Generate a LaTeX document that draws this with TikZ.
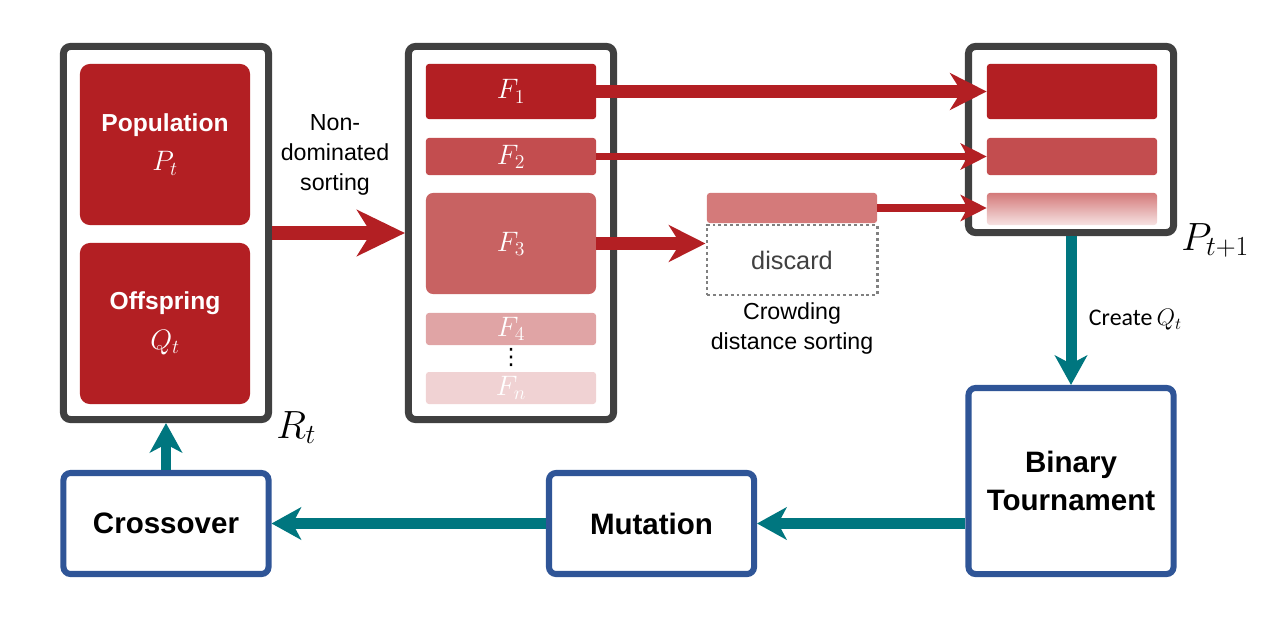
\documentclass[tikz,border=0pt]{standalone}
\usepackage{fix-cm}
\usepackage{amsmath}
\usepackage[no-math]{fontspec}
\setmainfont{Liberation Sans}
\newfontfamily\calibfont{Carlito}
\newfontfamily\dotsfont{DejaVu Sans}
\usepackage{tikz}
\usetikzlibrary{positioning}
\usetikzlibrary{arrows.meta}
\definecolor{redA}{RGB}{179,31,35}
\definecolor{redB}{RGB}{195,77,79}
\definecolor{redC}{RGB}{200,98,98}
\definecolor{redD}{RGB}{212,122,122}
\definecolor{redE}{RGB}{224,164,165}
\definecolor{redF}{RGB}{240,210,211}
\definecolor{redG}{RGB}{246,226,226}
\definecolor{grayline}{RGB}{64,64,64}
\definecolor{dotgray}{RGB}{128,128,128}
\definecolor{blueline}{RGB}{47,85,151}
\definecolor{tealc}{RGB}{0,118,127}

\begin{document}
\begin{tikzpicture}[x=0.025cm,y=-0.025cm]
\tikzstyle{cont}=[rectangle, rounded corners=5pt, line width=5pt, draw=grayline, minimum width=5.125cm]
\tikzstyle{blk}=[rectangle, rounded corners=2pt, minimum width=4.25cm, inner sep=0pt, text=white, font=\fontsize{20}{24}\selectfont]
\tikzstyle{op}=[rectangle, rounded corners=5pt, line width=4.3pt, draw=blueline, fill=white, minimum width=5.125cm, align=center, font=\bfseries\fontsize{21}{27}\selectfont]
\tikzstyle{txt}=[align=center, font=\fontsize{16.5}{21.5}\selectfont]
\tikzstyle{mathlbl}=[anchor=base west, inner sep=0pt, font=\fontsize{28}{30}\selectfont]
\tikzstyle{connect}=[-{Stealth[length=21pt,width=23pt,inset=6pt]}, line width=7.8pt, draw=tealc]
\tikzstyle{bigred}=[-{Stealth[length=34pt,width=32.6pt,inset=10pt]}, line width=10.6pt, draw=redA]
\tikzstyle{midred}=[-{Stealth[length=26pt,width=26pt,inset=8pt]}, line width=8.8pt, draw=redA]
\tikzstyle{thinred}=[-{Stealth[length=18.5pt,width=18.5pt,inset=5pt]}, line width=5.3pt, draw=redA]
\useasboundingbox (0,0) rectangle (1280,624);

  \node[cont, minimum height=9.325cm] (Rt) at (166,233) {};
  \node[blk, fill=redA, rounded corners=7pt, minimum height=4.025cm, align=center, font=\bfseries\fontsize{17.5}{24}\selectfont] (pop) at (165,144.5) {Population\\[4pt]{\fontsize{20}{24}\selectfont$P_t$}};
  \node[blk, fill=redA, rounded corners=7pt, minimum height=4.025cm, align=center, font=\bfseries\fontsize{17.5}{24}\selectfont] (off) at (165,323.5) {Offspring\\[4pt]{\fontsize{20}{24}\selectfont$Q_t$}};
  \node[mathlbl] (Rtl) at (276,438) {$R_t$};

  \node[cont, minimum height=9.325cm] (Fs) at (511,233) {};
  \node[blk, fill=redA, minimum height=1.375cm] (F1) at (511,91.5) {$F_1$};
  \node[blk, fill=redB, minimum height=0.925cm] (F2) at (511,156.5) {$F_2$};
  \node[blk, fill=redC, rounded corners=5pt, minimum height=2.525cm] (F3) at (511,243.5) {$F_3$};
  \node[blk, fill=redE, minimum height=0.8cm] (F4) at (511,329) {$F_4$};
  \node[inner sep=0pt, font=\dotsfont\fontsize{16}{16}\selectfont] (dots) at (511,357) {⋮};
  \node[blk, fill=redF, minimum height=0.8cm] (Fn) at (511,388) {$F_n$};

  \node[cont, minimum height=4.65cm] (Pnext) at (1071,139.5) {};
  \node[blk, fill=redA, minimum height=1.375cm] (S1) at (1072,91.5) {};
  \node[blk, fill=redB, minimum height=0.925cm] (S2) at (1072,156.5) {};
  \node[blk, top color=redD, bottom color=redG, minimum height=0.8cm] (S3) at (1072,209) {};
  \node[mathlbl] (Pl) at (1181,250) {$P_{t+1}$};

  \node[blk, fill=redD, minimum height=0.75cm] (cut) at (792,208) {};
  \node[rectangle, draw=dotgray, line width=2.1pt, dash pattern=on 2.1pt off 2.1pt, minimum width=4.25cm, minimum height=1.75cm, text=grayline, font=\fontsize{18}{20}\selectfont] (discard) at (792,260) {discard};
  \node[txt, below=1pt of discard] (crowd) {Crowding\\distance sorting};
  \node[txt] (nds) at (335,155) {Non-\\dominated\\sorting};

  \node[op, minimum height=4.65cm] (BT) at (1071,481) {Binary\\Tournament};
  \node[op, minimum height=2.525cm] (Mut) at (651.5,523.5) {Mutation};
  \node[op, minimum height=2.525cm] (Cross) at (166,523.5) {Crossover};
  \node[anchor=west, font=\calibfont\fontsize{17}{20}\selectfont] (cq) at (1084,320) {Create\,$Q_t$};

  \path (Rt) edge [bigred] (Fs);
  \path (F1) edge [midred] (S1);
  \path (F2) edge [thinred] (S2);
  \draw [thinred] (cut.east) -- (cut.east -| S3.west);
  \draw [midred] (F3.east) -- (F3.east -| discard.west);

  \path (Pnext) edge [connect] (BT);
  \draw [connect] (BT.west |- Mut.east) -- (Mut.east);
  \path (Mut) edge [connect] (Cross);
  \path (Cross) edge [connect] (Rt);
\end{tikzpicture}
\end{document}
